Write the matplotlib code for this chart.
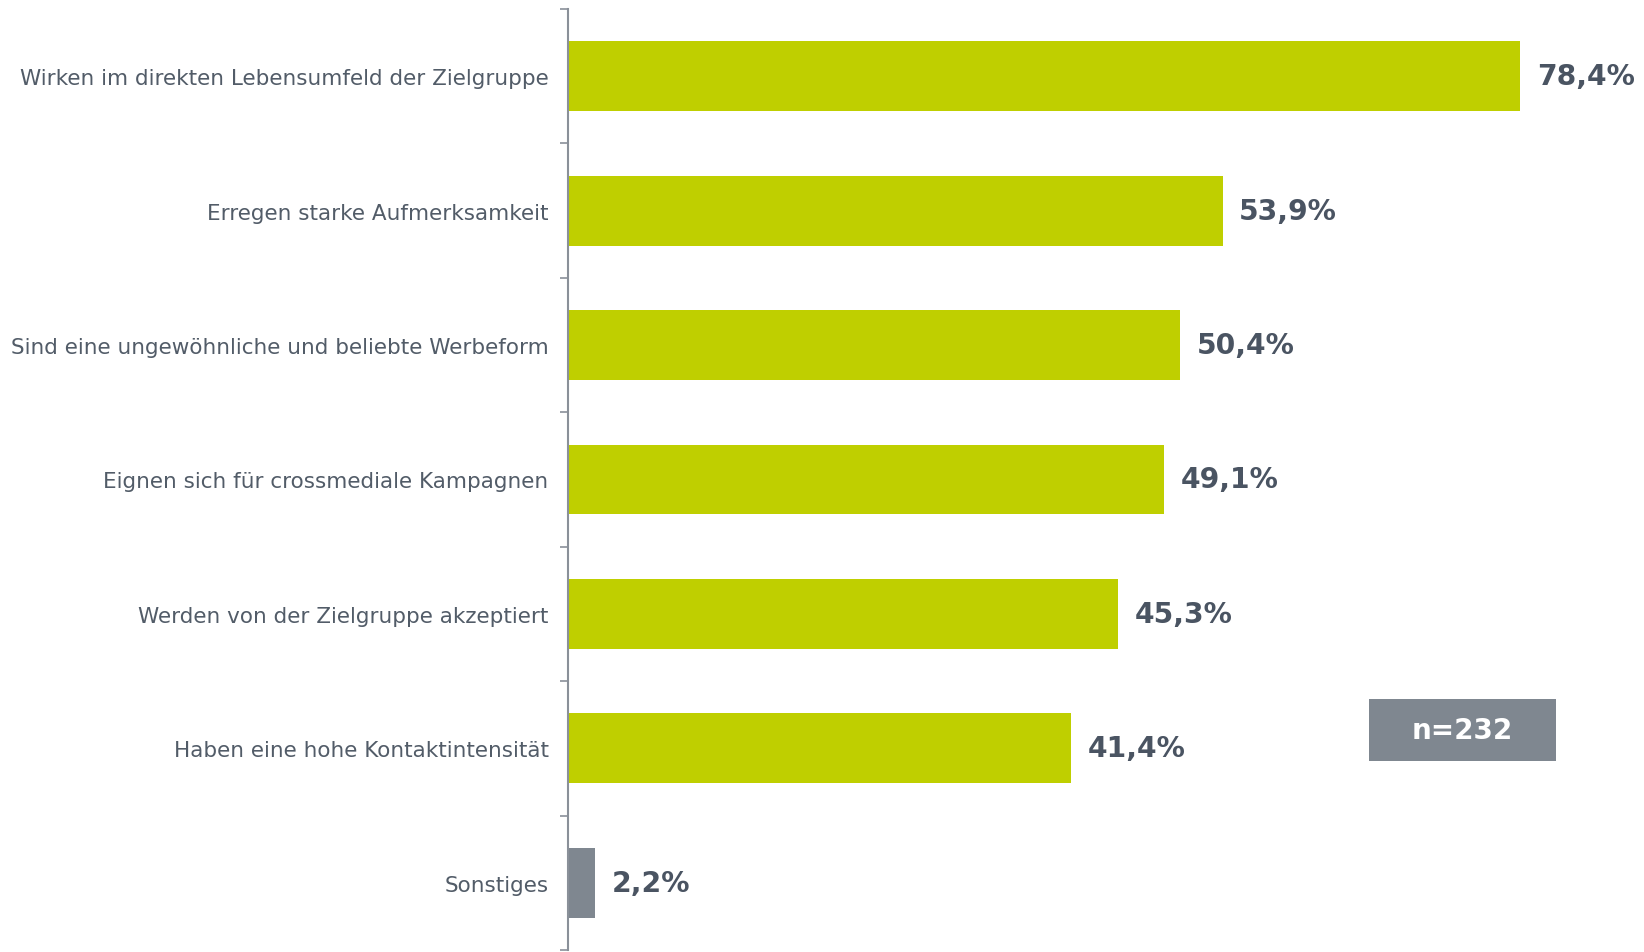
import matplotlib
matplotlib.use("Agg")
import matplotlib.pyplot as plt
from matplotlib.patches import Rectangle

categories = [
    "Wirken im direkten Lebensumfeld der Zielgruppe",
    "Erregen starke Aufmerksamkeit",
    "Sind eine ungewöhnliche und beliebte Werbeform",
    "Eignen sich für crossmediale Kampagnen",
    "Werden von der Zielgruppe akzeptiert",
    "Haben eine hohe Kontaktintensität",
    "Sonstiges",
]
values = [78.4, 53.9, 50.4, 49.1, 45.3, 41.4, 2.2]
value_labels = ["78,4%", "53,9%", "50,4%", "49,1%", "45,3%", "41,4%", "2,2%"]
sample_label = "n=232"

GREEN = "#bfcf00"
GRAY = "#7f8790"
TEXT = "#525c68"
VALTEXT = "#4a5462"

W, H = 1644, 953
fig = plt.figure(figsize=(W / 100, H / 100), dpi=100)
plt.rcParams['font.family'] = ['DejaVu Sans']

left_px, right_px = 568, 1644
top_px, bot_px = 10, 951
ax = fig.add_axes([left_px / W, 1 - bot_px / H, (right_px - left_px) / W, (bot_px - top_px) / H])

n = len(categories)
ypos = list(range(n))
colors = [GREEN] * (n - 1) + [GRAY]
ax.barh(ypos, values, height=0.52, color=colors, zorder=2)

xmax = (right_px - left_px) / (952 / 78.4)
ax.set_xlim(0, xmax)
ax.set_ylim(n - 0.5, -0.5)

for y, v, lab in zip(ypos, values, value_labels):
    ax.annotate(lab, xy=(v, y), xytext=(12, 0), textcoords="offset points",
                ha="left", va="center", fontsize=20.3, fontweight="bold", color=VALTEXT)

ax.set_yticks(ypos)
ax.set_yticklabels(categories, fontsize=15.45, color=TEXT)
ax.tick_params(axis="y", which="major", length=0, pad=14)
ax.set_yticks([i - 0.5 for i in range(n + 1)], minor=True)
ax.tick_params(axis="y", which="minor", length=6, width=1.2, color="#8a9099")

ax.set_xticks([])
for s in ["top", "right", "bottom"]:
    ax.spines[s].set_visible(False)
ax.spines["left"].set_color("#8a9099")
ax.spines["left"].set_linewidth(1.5)

# sample size box
bx0, by0, bx1, by1 = 1369, 700, 1556, 762
fig.patches.append(Rectangle((bx0 / W, 1 - by1 / H), (bx1 - bx0) / W, (by1 - by0) / H,
                             transform=fig.transFigure, facecolor=GRAY, edgecolor="none", zorder=5))
fig.text((bx0 + bx1) / 2 / W, 1 - (by0 + by1) / 2 / H, sample_label, ha="center", va="center",
         fontsize=20, fontweight="bold", color="white", zorder=6)

fig.savefig("out.png", dpi=100)
